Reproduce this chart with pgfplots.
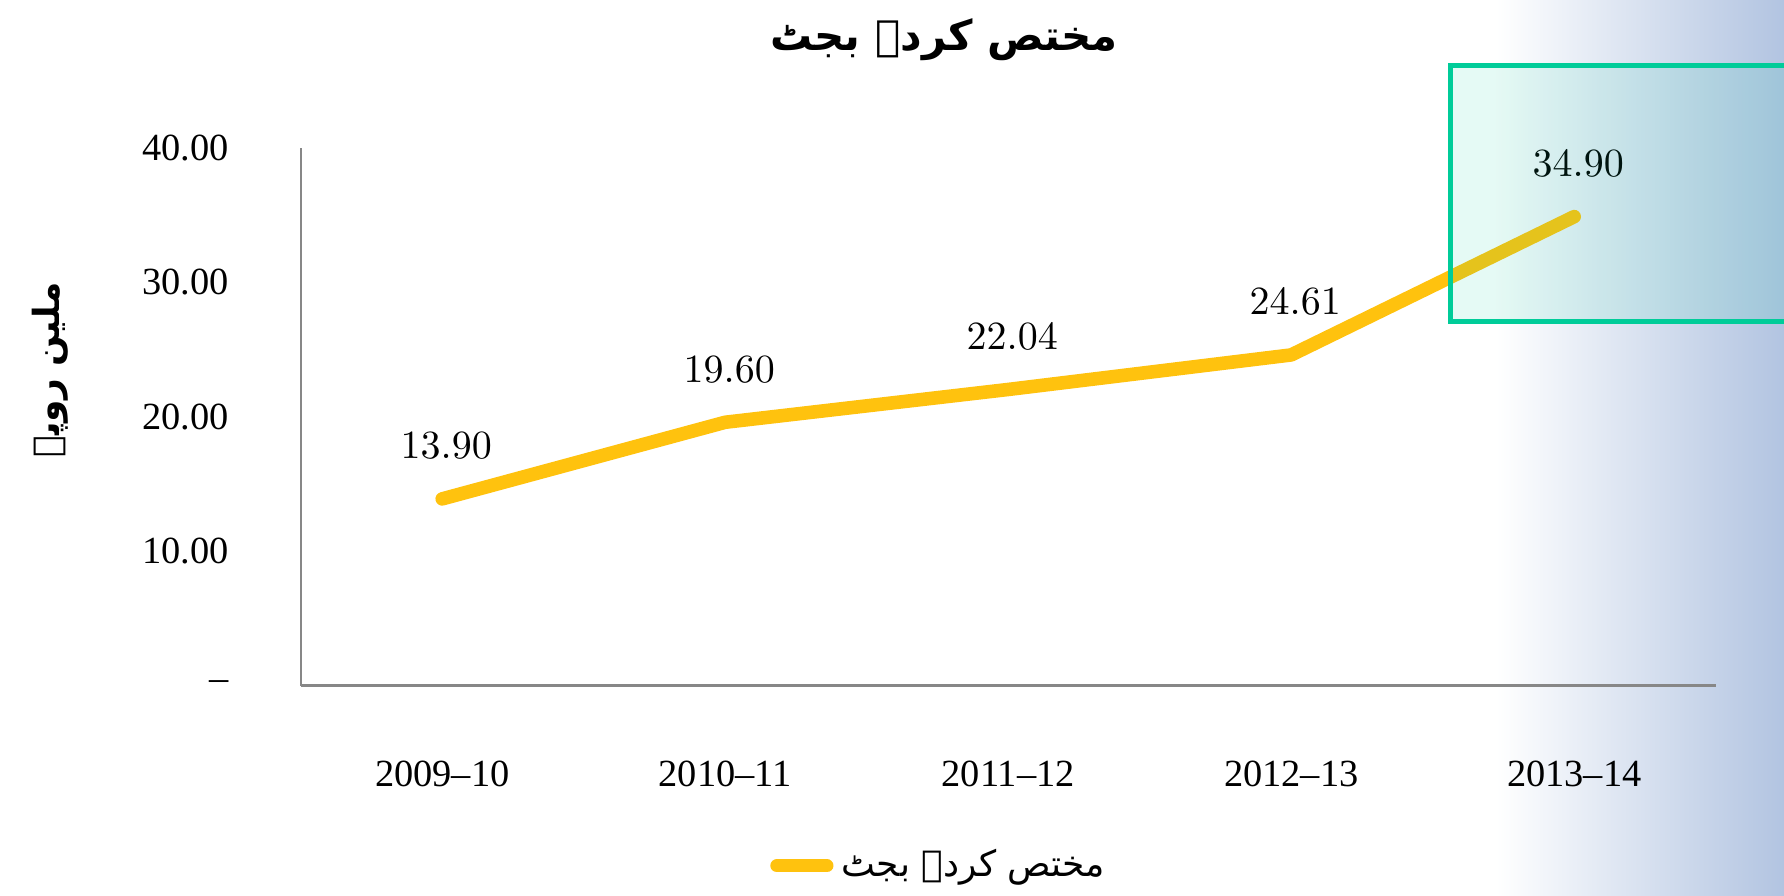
\documentclass[border=0pt]{standalone}
\usepackage{fontspec}
\setmainfont{Liberation Serif}
\newfontfamily\arabicfont[Script=Arabic]{DejaVu Sans}
\usepackage{pgfplots}
\pgfplotsset{compat=1.18}
\TeXXeTstate=1
\definecolor{gold}{RGB}{255,194,14}
\definecolor{axgray}{RGB}{135,135,135}
\definecolor{gradblue}{RGB}{178,196,225}
\definecolor{boxgreen}{RGB}{0,204,153}
\begin{document}
\begin{tikzpicture}
\path[use as bounding box] (0pt,0pt) rectangle (446pt,224pt);
\shade[left color=white, right color=gradblue] (374pt,0pt) rectangle (446pt,224pt);
\begin{axis}[
  at={(75.175pt,52.575pt)}, anchor=south west,
  scale only axis, width=353.75pt, height=134.4pt,
  xmin=-0.5, xmax=4.5, ymin=0, ymax=40,
  axis lines*=left,
  axis line style={axgray, line width=0.6pt},
  xtick={0,1,2,3,4},
  xticklabels={2009–10,2010–11,2011–12,2012–13,2013–14},
  ytick={0,10,20,30,40},
  yticklabels={–\hspace{4.2pt},10.00,20.00,30.00,40.00},
  major tick length=0pt,
  tick label style={font=\fontsize{9.6pt}{11pt}\selectfont, text=black},
  yticklabel style={anchor=east, xshift=-14.5pt},
  xticklabel style={anchor=center, yshift=-22pt},
  clip=false,
  legend style={draw=none, fill=none, at={(0.453,-0.335)}, anchor=center,
    font=\fontsize{9pt}{11pt}\selectfont, inner sep=0pt},
  legend cell align=left,
  legend image code/.code={\draw[line width=3.3pt, line cap=round, gold] (0pt,0pt) -- (12.5pt,0pt);},
]
\addplot[gold, line width=3.4pt, line cap=round, line join=round,
  nodes near coords={\pgfmathprintnumber[fixed, fixed zerofill, precision=2]{\pgfplotspointmeta}},
  nodes near coords style={anchor=center, yshift=13.25pt, xshift=1pt, text=black, font=\fontsize{9.6pt}{11pt}\selectfont}]
  coordinates {(0,13.90) (1,19.60) (2,22.04) (3,24.61) (4,34.90)};
\addlegendentry{\arabicfont\beginR مختص کردہ بجٹ\endR}
\end{axis}
\fill[boxgreen, fill opacity=0.10] (362.6pt,143.5pt) rectangle (450pt,207.6pt);
\draw[boxgreen, line width=1.25pt] (362.6pt,143.5pt) rectangle (450pt,207.6pt);
\node[font=\arabicfont\fontsize{10.5pt}{13pt}\selectfont\bfseries] at (236pt,214pt) {\beginR مختص کردہ بجٹ\endR};
\node[rotate=90, font=\arabicfont\fontsize{9pt}{11pt}\selectfont\bfseries] at (12.5pt,131.5pt) {\beginR ملین روپے\endR};
\end{tikzpicture}
\end{document}
